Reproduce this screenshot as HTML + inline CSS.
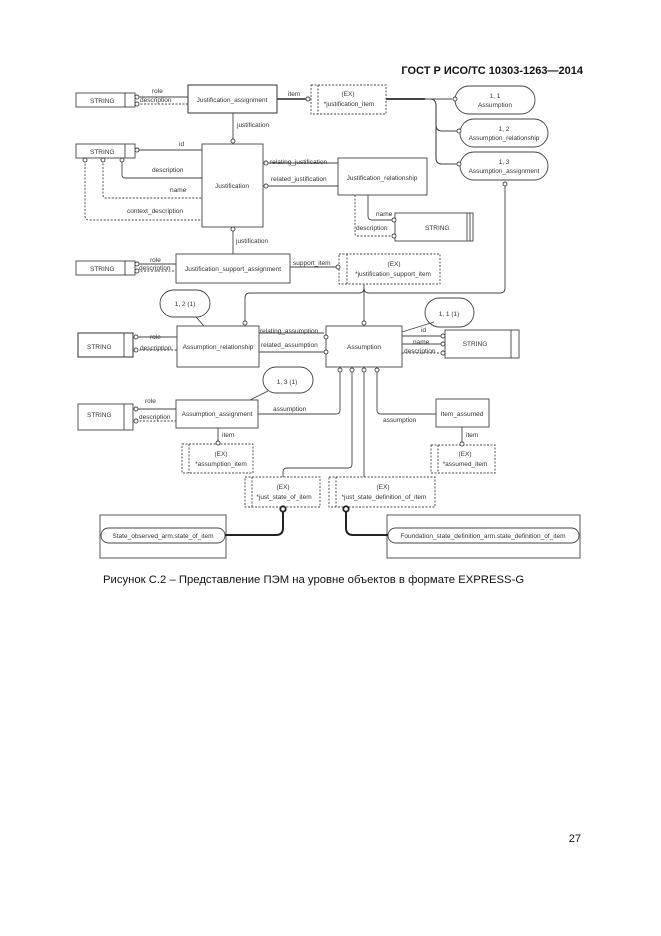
<!DOCTYPE html>
<html><head><meta charset="utf-8"><style>
html,body{margin:0;padding:0;background:#fff;}
svg{display:block;}
text{font-family:"Liberation Sans",sans-serif;fill:#333;}
.l{font-size:6.5px;}
</style></head><body>
<svg width="661" height="936" viewBox="0 0 661 936" xmlns="http://www.w3.org/2000/svg">
<g fill="none" stroke="#444" stroke-width="0.9">
<rect x="76" y="93" width="59" height="14"/><line x1="125" y1="93" x2="125" y2="107"/>
<line x1="137" y1="97" x2="188" y2="97"/><line x1="137" y1="104" x2="188" y2="104" stroke-dasharray="2,1.5"/>
<rect x="188" y="85" width="89" height="28" stroke-width="1.1"/>
<line x1="277" y1="99" x2="306" y2="99" stroke-width="1.8"/>
<rect x="311" y="85" width="75" height="29" stroke-dasharray="2,1.5"/><line x1="318" y1="85" x2="318" y2="114" stroke-dasharray="2,1.5"/>
<path d="M386 99 H430 Q436 99 436 106 V125 Q436 131 442 131 H457 M436 106 V158 Q436 164 442 164 H457 M430 99 H452" stroke-width="1.1"/>
<line x1="386" y1="99" x2="425" y2="99" stroke-width="2"/>
<rect x="455" y="86" width="80" height="28" rx="14"/>
<rect x="460" y="119" width="88" height="28" rx="14"/>
<rect x="460" y="152" width="88" height="28" rx="14"/>
<line x1="233" y1="113" x2="233" y2="139"/>
<rect x="202" y="144" width="61" height="83"/>
<rect x="76" y="144" width="59" height="14"/><line x1="125" y1="144" x2="125" y2="158"/>
<line x1="137" y1="150" x2="202" y2="150"/>
<path d="M122 160 V175 Q122 178 125 178 H202"/>
<path d="M103 160 V195 Q103 198 106 198 H202" stroke-dasharray="2,1.5"/>
<path d="M85 160 V216 Q85 220 89 220 H202" stroke-dasharray="2,1.5"/>
<line x1="268" y1="163" x2="338" y2="163"/><line x1="268" y1="186" x2="338" y2="186"/>
<rect x="338" y="158" width="89" height="37"/>
<path d="M368 195 V216 Q368 220 372 220 H392"/>
<path d="M355 195 V234 Q355 236 358 236 H392" stroke-dasharray="2,1.5"/>
<rect x="395" y="213" width="78" height="28"/><line x1="467" y1="213" x2="467" y2="241"/><line x1="470" y1="213" x2="470" y2="241"/>
<line x1="233" y1="231" x2="233" y2="254"/>
<rect x="76" y="261" width="59" height="14"/><line x1="125" y1="261" x2="125" y2="275"/>
<line x1="137" y1="264" x2="176" y2="264"/><line x1="137" y1="271" x2="176" y2="271" stroke-dasharray="2,1.5"/>
<rect x="176" y="254" width="114" height="29"/>
<line x1="290" y1="267" x2="336" y2="267"/>
<rect x="339" y="254" width="101" height="30" stroke-dasharray="2,1.5"/><line x1="347" y1="254" x2="347" y2="284" stroke-dasharray="2,1.5"/>
<path d="M364 284 V321"/>
<path d="M245 321 V298 Q245 293 250 293 H359 Q364 293 364 288 Q364 293 369 293 H500 Q505 293 505 288 V186"/>
<rect x="160" y="290" width="50" height="27" rx="13.5"/>
<line x1="196" y1="317" x2="204" y2="326"/>
<rect x="177" y="326" width="82" height="41"/>
<rect x="78" y="333" width="55" height="24" stroke-width="1.1"/><line x1="124" y1="333" x2="124" y2="357"/>
<line x1="136" y1="337" x2="177" y2="337"/><line x1="136" y1="350" x2="177" y2="350" stroke-dasharray="2,1.5"/>
<line x1="259" y1="333" x2="324" y2="333"/><line x1="259" y1="352" x2="324" y2="352"/>
<rect x="326" y="326" width="76" height="41"/>
<rect x="425" y="298" width="49" height="29" rx="14.5"/>
<line x1="402" y1="332" x2="434" y2="322"/>
<rect x="445" y="330" width="74" height="28"/><line x1="511" y1="330" x2="511" y2="358"/>
<line x1="402" y1="336" x2="442" y2="336"/><line x1="402" y1="344" x2="442" y2="344"/><line x1="402" y1="353" x2="442" y2="353" stroke-dasharray="2,1.5"/>
<path d="M340 372 V410 Q340 414 336 414 H258"/>
<path d="M352 372 V464 Q352 468 348 468 H287 Q283 468 283 472 V477"/>
<line x1="364" y1="372" x2="364" y2="477"/>
<path d="M377 372 V410 Q377 414 381 414 H436"/>
<rect x="263" y="367" width="50" height="26" rx="13"/>
<line x1="268" y1="391" x2="250" y2="400"/>
<rect x="176" y="400" width="82" height="28"/>
<rect x="78" y="404" width="55" height="26"/><line x1="124" y1="404" x2="124" y2="430"/>
<line x1="136" y1="409" x2="176" y2="409"/><line x1="136" y1="421" x2="176" y2="421" stroke-dasharray="2,1.5"/>
<line x1="218" y1="428" x2="218" y2="441"/>
<rect x="182" y="444" width="71" height="29" stroke-dasharray="2,1.5"/><line x1="189" y1="444" x2="189" y2="473" stroke-dasharray="2,1.5"/>
<rect x="436" y="399" width="53" height="28"/>
<line x1="462" y1="427" x2="462" y2="442"/>
<rect x="431" y="445" width="64" height="28" stroke-dasharray="2,1.5"/><line x1="438" y1="445" x2="438" y2="473" stroke-dasharray="2,1.5"/>
<rect x="245" y="477" width="75" height="30" stroke-dasharray="2,1.5"/><line x1="252" y1="477" x2="252" y2="507" stroke-dasharray="2,1.5"/>
<rect x="329" y="477" width="106" height="30" stroke-dasharray="2,1.5"/><line x1="336" y1="477" x2="336" y2="507" stroke-dasharray="2,1.5"/>
<rect x="100" y="515" width="126" height="43"/>
<rect x="101" y="528" width="124" height="15" rx="7.5"/>
<rect x="387" y="515" width="193" height="43"/>
<rect x="388" y="528" width="191" height="15" rx="7.5"/>
<path d="M283 512 V528 Q283 535 276 535 H225" stroke="#222" stroke-width="2"/>
<path d="M346 512 V528 Q346 535 353 535 H388" stroke="#222" stroke-width="2"/>
</g>
<g fill="#fff" stroke="#444" stroke-width="0.9">
<circle cx="137" cy="97" r="2"/><circle cx="137" cy="104" r="2"/>
<circle cx="308" cy="99" r="2"/><circle cx="455" cy="99" r="2"/><circle cx="459" cy="131" r="2"/><circle cx="459" cy="164" r="2"/>
<circle cx="233" cy="141" r="2"/><circle cx="137" cy="150" r="2"/>
<circle cx="85" cy="160" r="2"/><circle cx="103" cy="160" r="2"/><circle cx="122" cy="160" r="2"/>
<circle cx="266" cy="163" r="2"/><circle cx="266" cy="186" r="2"/>
<circle cx="394" cy="220" r="2"/><circle cx="394" cy="236" r="2"/>
<circle cx="233" cy="229" r="2"/>
<circle cx="137" cy="264" r="2"/><circle cx="137" cy="271" r="2"/><circle cx="338" cy="267" r="2"/>
<circle cx="505" cy="184" r="2"/>
<circle cx="245" cy="323" r="2"/><circle cx="364" cy="323" r="2"/>
<circle cx="136" cy="337" r="2"/><circle cx="136" cy="350" r="2"/>
<circle cx="326" cy="337" r="2"/><circle cx="326" cy="352" r="2"/>
<circle cx="443" cy="336" r="2"/><circle cx="443" cy="344" r="2"/><circle cx="443" cy="353" r="2"/>
<circle cx="340" cy="370" r="2"/><circle cx="352" cy="370" r="2"/><circle cx="364" cy="370" r="2"/><circle cx="377" cy="370" r="2"/>
<circle cx="136" cy="409" r="2"/><circle cx="136" cy="421" r="2"/>
<circle cx="218" cy="443" r="2"/><circle cx="462" cy="444" r="2"/>
<circle cx="283" cy="509" r="2.7" stroke="#222" stroke-width="1.8"/><circle cx="346" cy="509" r="2.7" stroke="#222" stroke-width="1.8"/>
</g>
<text x="583" y="74" text-anchor="end" style="font-size:11px;font-weight:bold;fill:#111">ГОСТ Р ИСО/ТС 10303-1263—2014</text>
<g class="l">
<text x="90" y="103">STRING</text>
<text x="152" y="93">role</text><text x="140" y="102">description</text>
<text x="232" y="102" text-anchor="middle">Justification_assignment</text>
<text x="288" y="96">item</text>
<text x="348" y="96" text-anchor="middle">(EX)</text><text x="349" y="106" text-anchor="middle">*justification_item</text>
<text x="495" y="98" text-anchor="middle">1, 1</text><text x="495" y="107" text-anchor="middle">Assumption</text>
<text x="504" y="131" text-anchor="middle">1, 2</text><text x="504" y="140" text-anchor="middle">Assumption_relationship</text>
<text x="504" y="164" text-anchor="middle">1, 3</text><text x="504" y="173" text-anchor="middle">Assumption_assignment</text>
<text x="237" y="127">justification</text>
<text x="90" y="154">STRING</text>
<text x="179" y="146">id</text>
<text x="152" y="172">description</text>
<text x="170" y="192">name</text>
<text x="127" y="213">context_description</text>
<text x="232" y="188" text-anchor="middle">Justification</text>
<text x="270" y="164">relating_justification</text>
<text x="271" y="181">related_justification</text>
<text x="382" y="180" text-anchor="middle">Justification_relationship</text>
<text x="376" y="216">name</text><text x="356" y="230">description</text>
<text x="425" y="230">STRING</text>
<text x="236" y="243">justification</text>
<text x="90" y="271">STRING</text>
<text x="150" y="262">role</text><text x="139" y="270">description</text>
<text x="233" y="271" text-anchor="middle">Justification_support_assignment</text>
<text x="293" y="265">support_item</text>
<text x="394" y="266" text-anchor="middle">(EX)</text><text x="393" y="276" text-anchor="middle">*justification_support_item</text>
<text x="185" y="306" text-anchor="middle">1, 2 (1)</text>
<text x="87" y="349">STRING</text>
<text x="150" y="339">role</text><text x="140" y="350">description</text>
<text x="218" y="349" text-anchor="middle">Assumption_relationship</text>
<text x="260" y="333">relating_assumption</text>
<text x="261" y="347">related_assumption</text>
<text x="364" y="349" text-anchor="middle">Assumption</text>
<text x="449" y="316" text-anchor="middle">1, 1 (1)</text>
<text x="421" y="332">id</text><text x="413" y="344">name</text><text x="404" y="353">description</text>
<text x="475" y="346" text-anchor="middle">STRING</text>
<text x="287" y="384" text-anchor="middle">1, 3 (1)</text>
<text x="87" y="417">STRING</text>
<text x="145" y="403">role</text><text x="139" y="419">description</text>
<text x="217" y="416" text-anchor="middle">Assumption_assignment</text>
<text x="273" y="411">assumption</text>
<text x="222" y="437">item</text>
<text x="221" y="456" text-anchor="middle">(EX)</text><text x="221" y="466" text-anchor="middle">*assumption_item</text>
<text x="383" y="422">assumption</text>
<text x="462" y="416" text-anchor="middle">Item_assumed</text>
<text x="466" y="437">item</text>
<text x="465" y="456" text-anchor="middle">(EX)</text><text x="465" y="466" text-anchor="middle">*assumed_item</text>
<text x="283" y="489" text-anchor="middle">(EX)</text><text x="284" y="499" text-anchor="middle">*just_state_of_item</text>
<text x="383" y="489" text-anchor="middle">(EX)</text><text x="384" y="499" text-anchor="middle">*just_state_definition_of_item</text>
<text x="163" y="538" text-anchor="middle">State_observed_arm.state_of_item</text>
<text x="483" y="538" text-anchor="middle">Foundation_state_definition_arm.state_definition_of_item</text>
</g>
<text x="103" y="583" style="font-size:11.3px;fill:#111">Рисунок С.2 –  Представление ПЭМ на уровне объектов в формате EXPRESS-G</text>
<text x="581" y="842" text-anchor="end" style="font-size:11px;fill:#111">27</text>
</svg>
</body></html>
